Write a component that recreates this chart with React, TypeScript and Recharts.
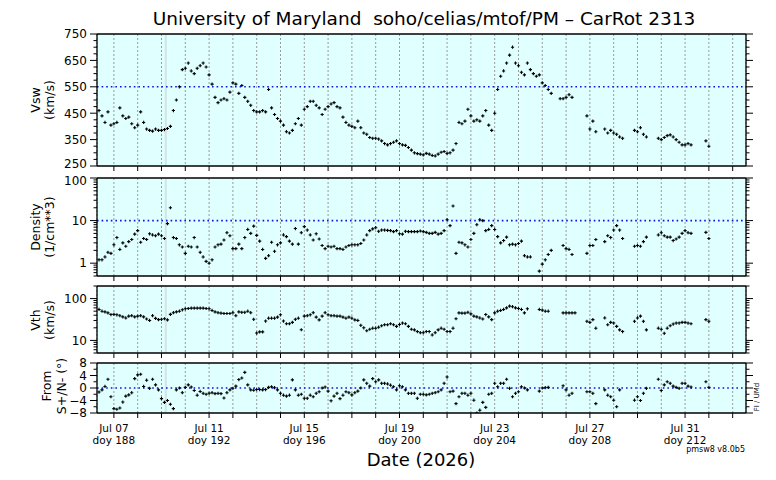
import { CartesianGrid, ReferenceLine, Scatter, ScatterChart, XAxis, YAxis } from "recharts";

const FONT = "DejaVu Sans, Verdana, sans-serif";

// samples are every 3 hours, index 0 = doy 187.0
const START_DOY = 187;
const PER_DAY = 8;

// solar wind speed, km/s
const vsw = [
	null, null, null, 460, 440, 415, 455, 405, // 187
	410, 415, 470, 440, 430, 435, 410, 395, // 188
	405, 455, 415, 390, 385, 382, 390, 385, // 189
	385, 388, 392, 400, 460, 500, 550, 615, // 190
	620, 640, 610, 600, 620, 630, 640, 625, // 191
	595, 560, 510, 490, 500, 505, 500, 530, // 192
	565, 560, 525, 555, 510, 495, 480, 460, // 193
	455, 455, 460, 455, 540, 470, 445, 430, // 194
	420, 405, 380, 375, 385, 410, 430, 405, // 195
	465, 475, 495, 495, 480, 470, 445, 465, // 196
	475, 485, 490, 475, 470, 435, 415, 405, // 197
	400, 395, 420, 395, 375, 370, 358, 355, // 198
	355, 352, 345, 335, 330, 335, 340, 345, // 199
	335, 330, 328, 320, 310, 300, 297, 295, // 200
	292, 298, 295, 290, 288, 295, 302, 305, // 201
	298, 300, 310, 335, 415, 410, 420, 465, // 202
	440, 420, 425, 420, 440, 460, 405, 385, // 203
	450, 540, 590, 610, 640, 670, 700, 640, // 204
	630, 605, 595, 640, 615, 600, 590, 595, // 205
	565, 555, 540, 525, null, null, 505, 505, // 206
	510, 520, 510, null, null, null, null, 440, // 207
	390, 420, 380, null, null, 390, 375, 385, // 208
	375, 370, 360, 355, null, null, null, 385, // 209
	380, 395, 370, 360, null, null, null, 355, // 210
	350, 358, 365, 368, 360, 350, 340, 330, // 211
	330, 335, 330, null, null, null, null, 345, // 212
	325, // 213
];

// proton density, 1/cm^3
const density = [
	null, null, null, 1.2, 1.2, 1.4, 1.8, 1.7, // 187
	2.7, 4.0, 2.1, 3.0, 2.5, 3.2, 3.6, 4.8, // 188
	5.8, 3.1, 3.8, 3.6, 4.9, 4.6, 4.4, 4.8, // 189
	4.4, 3.8, 8.5, 20, 4.0, 3.8, 2.7, 2.4, // 190
	1.7, 2.5, 2.4, 4.0, 2.4, 1.8, 1.4, 1.1, // 191
	1.0, 1.2, 2.4, 2.7, 2.8, 3.5, 5.2, 4.4, // 192
	2.2, 2.2, 2.8, 2.2, 4.0, 6.2, 5.0, 7.4, // 193
	4.5, 3.3, 2.1, 1.3, 1.5, 3.1, 1.9, 2.7, // 194
	3.0, 4.6, 4.2, 3.3, 2.8, 6.5, 2.8, 5.2, // 195
	7.2, 6.0, 4.6, 3.5, 4.9, 3.7, 2.6, 2.2, // 196
	2.5, 2.4, 2.5, 2.2, 2.2, 2.1, 2.4, 2.6, // 197
	2.7, 2.7, 2.7, 2.9, 3.5, 4.6, 5.8, 6.4, // 198
	6.8, 5.6, 6.0, 6.0, 5.9, 5.8, 5.5, 5.8, // 199
	4.9, 4.8, 5.6, 5.5, 5.5, 5.5, 5.5, 5.7, // 200
	5.5, 5.3, 5.0, 5.0, 5.3, 4.8, 5.0, 5.8, // 201
	10.5, 7.6, 22, 1.7, 3.1, 3.0, 2.7, 2.4, // 202
	3.6, 5.0, 8.0, 10.5, 10, 5.8, 6.2, 7.6, // 203
	6.2, 4.2, 3.0, 3.4, 4.1, 2.7, 2.8, 2.7, // 204
	2.9, 3.3, 1.5, 1.4, 1.4, null, null, 0.65, // 205
	0.95, 1.2, 1.6, 2.0, null, null, null, 2.6, // 206
	2.2, 2.1, 1.6, null, null, null, null, 1.7, // 207
	2.6, 2.6, 3.6, null, null, 3.2, 4.4, 4.0, // 208
	6.0, 7.6, 6.0, 3.8, null, null, null, 2.5, // 209
	2.6, 2.5, 3.2, 4.1, null, null, null, 4.6, // 210
	5.2, 4.4, 4.1, 4.1, 3.4, 3.7, 4.1, 5.0, // 211
	5.8, 5.2, 5.0, null, null, null, null, 5.3, // 212
	3.8, // 213
];

// thermal speed, km/s
const vth = [
	null, null, null, 55, 50, 48, 45.6, 41.5, // 187
	42, 41, 39, 36.5, 34.4, 38, 39, 36.5, // 188
	38, 39, 36.5, 32.5, 30, 39, 33.7, 31.4, // 189
	32, 33, 31, 42, 46, 48, 50, 54, // 190
	57, 58, 59, 59, 59, 59, 59, 58, // 191
	57, 52, 48, 46, 45, 44, 44, 44, // 192
	46, 39, 48, 47, 47, 50, 46, 32, // 193
	15, 16, 16, 29, 34, 34, 34, 36, // 194
	41, 29, 25, 25, 27, 32, 34, 18, // 195
	38, 39, 41, 46, 36, 31, 38, 46, // 196
	41, 39, 39, 38, 38, 36, 34, 36, // 197
	34, 31, 30, 23, 20, 17, 18.5, 19.6, // 198
	19.6, 20.7, 22.4, 23.7, 23.7, 25, 23.7, 21.6, // 199
	24, 26, 25, 21.6, 18.5, 17.9, 16.3, 15.3, // 200
	15.3, 16.3, 16.3, 13.5, 15.3, 17.9, 19.6, 18.5, // 201
	16.3, 16.3, 19.6, 33, 45.6, 45, 45, 47, // 202
	43, 38, 36.5, 34.4, 32.5, 41.5, 36.5, 31.4, // 203
	45.6, 50, 52, 55, 60, 66, 64, 60, // 204
	58, 55, 45.6, 57, null, null, null, 55, // 205
	53, 50, 50, null, null, null, null, 45.6, // 206
	45.6, 45.6, 45.6, 45.6, null, null, null, 28.6, // 207
	27, 31.4, 19.6, null, null, 34.4, 23.7, 27, // 208
	26, 21.6, 17.9, 16.3, null, null, null, 28.6, // 209
	34.4, 38, 28.6, 17.9, null, null, null, 19.6, // 210
	18.5, 14.8, 19.6, 22.4, 24.6, 26, 26, 27, // 211
	27, 26, 25, null, null, null, null, 31.4, // 212
	28.6, // 213
];

// flow direction from S+/N-, degrees
const flowAngle = [
	null, null, null, -1.3, -0.6, 0.5, 2.8, -2.8, // 187
	-6.6, -6.8, -6.4, -4.5, -2.6, -2.2, -1.5, 3.0, // 188
	4.2, 4.4, 0.5, 2.5, -0.1, 2.8, 1.0, -0.6, // 189
	-3.4, -4.6, -4.0, -5.2, -6.6, -0.6, 0.0, -1.5, // 190
	0.2, 1.0, 0.3, -0.8, -2.3, -1.1, -1.7, -2.0, // 191
	-1.7, -1.5, -1.8, -1.7, -1.8, -3.2, -1.5, -0.6, // 192
	-0.1, 0.6, 2.7, 3.2, 5.0, 1.0, -0.6, -0.7, // 193
	-0.5, -0.5, -0.6, -0.5, 0.2, 0.4, 0.1, -0.6, // 194
	-1.7, -2.3, -2.6, -2.3, 2.6, -0.6, -2.3, -2.0, // 195
	-3.3, -3.3, -2.3, -2.8, -1.7, -1.2, 0.0, 0.3, // 196
	-1.0, -4.1, -2.6, -1.7, -3.4, -2.3, -1.2, -1.5, // 197
	-2.2, -1.5, -1.0, 0.0, 2.6, 1.5, 0.6, 3.0, // 198
	2.0, 2.6, 1.5, 1.5, 1.3, 0.9, 0.4, -0.6, // 199
	0.7, 0.4, -0.6, -1.7, -1.7, -1.7, -3.3, -2.0, // 200
	-2.0, -2.2, -2.0, -1.7, -1.5, -1.2, -0.6, 1.5, // 201
	3.5, -1.2, -1.0, -5.0, -2.8, -1.7, -1.7, -2.3, // 202
	-1.7, -3.9, -8.0, -7.1, -4.6, -6.2, -2.0, -1.7, // 203
	1.5, 0.4, 1.5, 1.5, 2.8, -0.1, -2.8, -1.7, // 204
	-1.2, 0.4, 0.0, -0.6, null, null, null, -1.0, // 205
	0.0, 0.1, 0.2, null, null, null, null, 0.7, // 206
	-0.6, -2.3, -1.7, null, null, null, null, -1.2, // 207
	-1.2, -1.7, -5.0, null, null, -0.6, -2.3, -2.8, // 208
	-3.9, -6.0, -0.6, null, null, null, null, -3.9, // 209
	-2.8, -4.0, -1.7, -0.1, null, null, null, 2.8, // 210
	-0.8, 1.0, 2.0, 1.5, 0.6, 0.2, -0.1, 1.5, // 211
	1.5, 0.6, 0.3, null, null, null, null, 2.0, // 212
	0.2, // 213
];

const X_DOMAIN: [number, number] = [187.29, 214.56];
const dayTicks = Array.from({ length: 27 }, (_, i) => 188 + i);
const dateDoys = [188, 192, 196, 200, 204, 208, 212];
const dateLabels = ["Jul 07", "Jul 11", "Jul 15", "Jul 19", "Jul 23", "Jul 27", "Jul 31"];

const vswTicks = Array.from({ length: 21 }, (_, i) => 250 + i * 25);
const vswLabels = [250, 350, 450, 550, 650, 750];
const angleTicks = [-8, -6, -4, -2, 0, 2, 4, 6, 8];
const angleLabels = [-8, -4, 0, 4, 8];

// 1..9 x each decade, clipped to [lo, hi]
function logTicks(lo: number, hi: number) {
	const out: number[] = [];
	for (let d = 0.1; d <= 100; d *= 10) {
		for (let m = 1; m < 10; m++) {
			const v = Math.round(m * d * 1000) / 1000;
			if (v >= lo && v <= hi) out.push(v);
		}
	}
	return out;
}

function toPoints(values: (number | null)[]) {
	return values
		.map((v, i) => ({ x: START_DOY + i / PER_DAY, y: v }))
		.filter((p) => p.y != null);
}

const fmt = (v: number) => (v < 0 ? `\u2212${Math.abs(v)}` : String(v));

function LeftTick({ x, y, payload, labels, shift }: any) {
	const major = labels.includes(payload.value);
	const dy = (shift && shift[payload.value]) || 0;
	return (
		<g>
			<line x1={x} x2={x - (major ? 7 : 3.5)} y1={y} y2={y} stroke="#000" />
			{major && (
				<text x={x - 10} y={y + dy} dy="0.36em" textAnchor="end" fontSize={12} fontFamily={FONT} fill="#000">
					{fmt(payload.value)}
				</text>
			)}
		</g>
	);
}

function RightTick({ x, y, payload, labels }: any) {
	const major = labels.includes(payload.value);
	return <line x1={x} x2={x + (major ? 7 : 3.5)} y1={y} y2={y} stroke="#000" />;
}

function TopTick({ x, y }: any) {
	return <line x1={x} x2={x} y1={y} y2={y - 5} stroke="#000" />;
}

function BottomTick({ x, y, payload, dates }: any) {
	const idx = dateDoys.indexOf(payload.value);
	return (
		<g>
			<line x1={x} x2={x} y1={y} y2={y + 5} stroke="#000" />
			{dates && idx >= 0 && (
				<text x={x} y={y + 19} textAnchor="middle" fontSize={10.5} fontFamily={FONT} fill="#000">
					<tspan x={x}>{dateLabels[idx]}</tspan>
					<tspan x={x} dy={12}>{`doy ${dateDoys[idx]}`}</tspan>
				</text>
			)}
		</g>
	);
}

function Cross({ cx, cy }: any) {
	if (cx == null || cy == null) return null;
	return <path d={`M${cx - 1.6},${cy}h3.2M${cx},${cy - 1.6}v3.2`} stroke="#000" strokeWidth={1.1} />;
}

interface PanelProps {
	top: number;
	plotHeight: number;
	values: (number | null)[];
	domain: [number, number];
	scale: "linear" | "log";
	ticks: number[];
	labels: number[];
	shift?: Record<number, number>;
	refY?: number;
	dates?: boolean;
}

function Panel({ top, plotHeight, values, domain, scale, ticks, labels, shift, refY, dates }: PanelProps) {
	const bottomH = dates ? 40 : 10;
	return (
		<div style={{ position: "absolute", left: 0, top: top - 10 }}>
			<ScatterChart
				width={776}
				height={plotHeight + 10 + bottomH}
				margin={{ top: 0, right: 0, bottom: 0, left: 0 }}
			>
				<CartesianGrid
					xAxisId="b"
					yAxisId="l"
					horizontal={false}
					fill="#e0ffff"
					fillOpacity={1}
					stroke="#9a9a9a"
					strokeDasharray="2 2"
				/>
				<XAxis
					xAxisId="b"
					type="number"
					dataKey="x"
					domain={X_DOMAIN}
					ticks={dayTicks}
					interval={0}
					allowDataOverflow
					height={bottomH}
					tickSize={0}
					tickMargin={0}
					tickLine={false}
					axisLine={{ stroke: "#000", strokeWidth: 1.3 }}
					tick={<BottomTick dates={dates} />}
				/>
				<XAxis
					xAxisId="t"
					orientation="top"
					type="number"
					domain={X_DOMAIN}
					ticks={dayTicks}
					interval={0}
					allowDataOverflow
					height={10}
					tickSize={0}
					tickMargin={0}
					tickLine={false}
					axisLine={{ stroke: "#000", strokeWidth: 1.3 }}
					tick={<TopTick />}
				/>
				<YAxis
					yAxisId="l"
					type="number"
					dataKey="y"
					scale={scale}
					domain={domain}
					ticks={ticks}
					interval={0}
					allowDataOverflow
					width={97}
					tickSize={0}
					tickMargin={0}
					tickLine={false}
					axisLine={{ stroke: "#000", strokeWidth: 1.3 }}
					tick={<LeftTick labels={labels} shift={shift} />}
				/>
				<YAxis
					yAxisId="r"
					orientation="right"
					type="number"
					scale={scale}
					domain={domain}
					ticks={ticks}
					interval={0}
					allowDataOverflow
					width={30}
					tickSize={0}
					tickMargin={0}
					tickLine={false}
					axisLine={{ stroke: "#000", strokeWidth: 1.3 }}
					tick={<RightTick labels={labels} />}
				/>
				<ReferenceLine xAxisId="b" yAxisId="l" x={190.18} stroke="#d4e4e4" strokeWidth={2} />
				{refY != null && (
					<ReferenceLine
						xAxisId="b"
						yAxisId="l"
						y={refY}
						stroke="#1010e8"
						strokeWidth={1.6}
						strokeDasharray="1.6 3"
					/>
				)}
				<Scatter
					xAxisId="b"
					yAxisId="l"
					data={toPoints(values)}
					shape={<Cross />}
					isAnimationActive={false}
				/>
			</ScatterChart>
		</div>
	);
}

function YTitle({ cx, cy, lines }: { cx: number[]; cy: number; lines: string[] }) {
	return (
		<>
			{lines.map((t, i) => (
				<text
					key={t}
					x={cx[i]}
					y={cy}
					transform={`rotate(-90 ${cx[i]} ${cy})`}
					textAnchor="middle"
					dominantBaseline="central"
					fontSize={12.5}
					fontFamily={FONT}
					fill="#000"
				>
					{t}
				</text>
			))}
		</>
	);
}

export default function App() {
	return (
		<div style={{ position: "absolute", left: 0, top: 0, width: 776, height: 480, background: "#fff" }}>
			<Panel top={34} plotHeight={132} values={vsw} domain={[250, 750]} scale="linear" ticks={vswTicks} labels={vswLabels} shift={{ 250: -2.5 }} refY={550} />
			<Panel top={178} plotHeight={98} values={density} domain={[0.5, 100]} scale="log" ticks={logTicks(0.5, 100)} labels={[1, 10, 100]} shift={{ 100: 2.5 }} refY={10} />
			<Panel top={286} plotHeight={67} values={vth} domain={[5, 200]} scale="log" ticks={logTicks(5, 200)} labels={[10, 100]} />
			<Panel top={363} plotHeight={50} values={flowAngle} domain={[-8, 8]} scale="linear" ticks={angleTicks} labels={angleLabels} refY={0} dates />
			<svg width={776} height={480} style={{ position: "absolute", left: 0, top: 0, pointerEvents: "none" }}>
				<text x={424} y={25} textAnchor="middle" fontSize={18.5} fontFamily={FONT} fill="#000">
					{"University of Maryland\u00a0\u00a0soho/celias/mtof/PM \u2013 CarRot 2313"}
				</text>
				<YTitle cx={[35, 49]} cy={100} lines={["Vsw", "(km/s)"]} />
				<YTitle cx={[35, 49]} cy={227} lines={["Density", "(1/cm**3)"]} />
				<YTitle cx={[35, 49]} cy={320} lines={["Vth", "(km/s)"]} />
				<YTitle cx={[46, 61]} cy={386} lines={["From", "S+/N- (\u00b0)"]} />
				<text x={421} y={466} textAnchor="middle" fontSize={18} fontFamily={FONT} fill="#000">
					Date (2026)
				</text>
				<text x={745} y={452} textAnchor="end" fontSize={8} fontFamily={FONT} fill="#000">
					pmsw8 v8.0b5
				</text>
				<text
					x={757}
					y={397}
					transform="rotate(-90 757 397)"
					textAnchor="middle"
					dominantBaseline="central"
					fontSize={7}
					fontFamily={FONT}
					fill="#000"
				>
					FI / UMd
				</text>
			</svg>
		</div>
	);
}
